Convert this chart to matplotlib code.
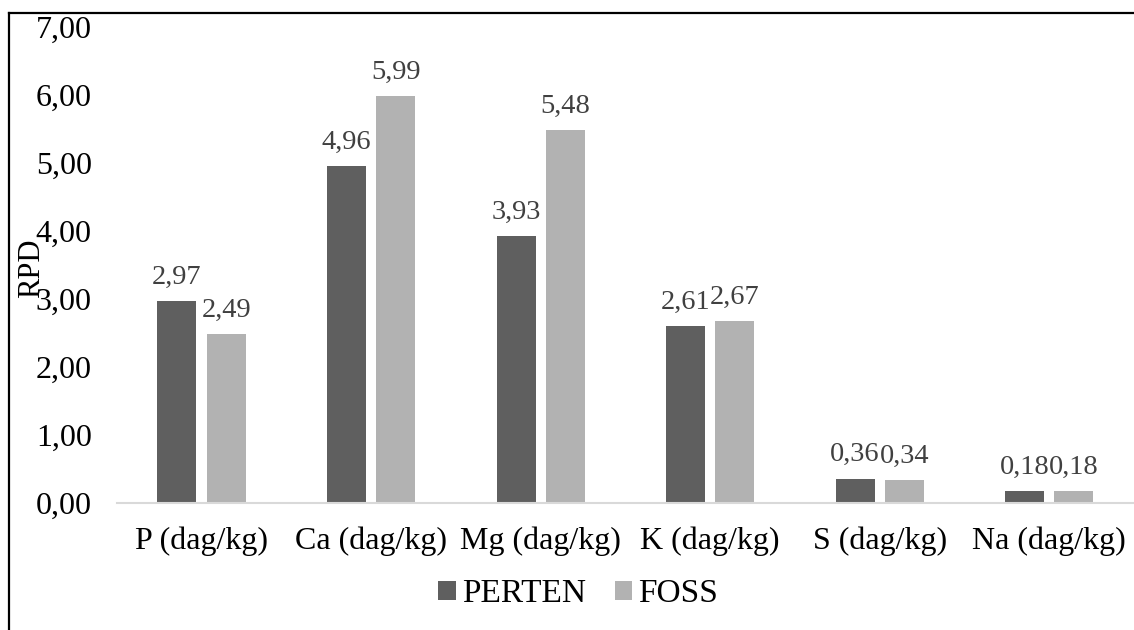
import matplotlib
matplotlib.use("Agg")
import matplotlib.pyplot as plt
import numpy as np
from matplotlib.lines import Line2D

categories = ["P (dag/kg)", "Ca (dag/kg)", "Mg (dag/kg)", "K (dag/kg)", "S (dag/kg)", "Na (dag/kg)"]
perten = [2.97, 4.96, 3.93, 2.61, 0.36, 0.18]
foss = [2.49, 5.99, 5.48, 2.67, 0.34, 0.18]
yticks = [0, 1, 2, 3, 4, 5, 6, 7]

plt.rcParams["font.family"] = ["Liberation Serif", "DejaVu Serif"]

fig = plt.figure(figsize=(11.34, 6.3), dpi=100)
ax = fig.add_axes([0.103, 0.2016, 0.897, 0.7554])

x = np.arange(len(categories))
w = 0.23
off = 0.145
b1 = ax.bar(x - off, perten, w, color="#5f5f5f", label="PERTEN")
b2 = ax.bar(x + off, foss, w, color="#b2b2b2", label="FOSS")

for bars, vals in ((b1, perten), (b2, foss)):
    for bar, v in zip(bars, vals):
        ax.annotate(f"{v:.2f}".replace(".", ","),
                    (bar.get_x() + bar.get_width() / 2, v),
                    xytext=(0, 8), textcoords="offset points",
                    ha="center", va="bottom", fontsize=20.5, color="#404040")

ax.set_xlim(-0.5, len(categories) - 0.5)
ax.set_ylim(0, 7)
ax.set_yticks(yticks)
ax.set_yticklabels([f"{t:.2f}".replace(".", ",") for t in yticks])
ax.set_xticks(x)
ax.set_xticklabels(categories)
ax.tick_params(axis="y", length=0, pad=18, labelsize=23)
ax.tick_params(axis="x", length=0, pad=17, labelsize=23)
for s in ("top", "right", "left"):
    ax.spines[s].set_visible(False)
ax.spines["bottom"].set_color("#d9d9d9")
ax.spines["bottom"].set_linewidth(1.5)

fig.text(0.028, 0.574, "RPD", rotation=90, ha="center", va="center", fontsize=22)

fig.legend(handles=[b1, b2], loc="center", bbox_to_anchor=(0.51, 0.057), ncol=2,
           frameon=False, fontsize=24, handlelength=0.52, handleheight=0.52,
           handletextpad=0.2, columnspacing=0.85, borderpad=0)

fig.add_artist(Line2D([0.0075, 0.0075], [0, 0.98], transform=fig.transFigure, color="black", lw=1.6))
fig.add_artist(Line2D([0.0075, 1.0], [0.98, 0.98], transform=fig.transFigure, color="black", lw=1.6))

fig.savefig("out.png", dpi=100)
